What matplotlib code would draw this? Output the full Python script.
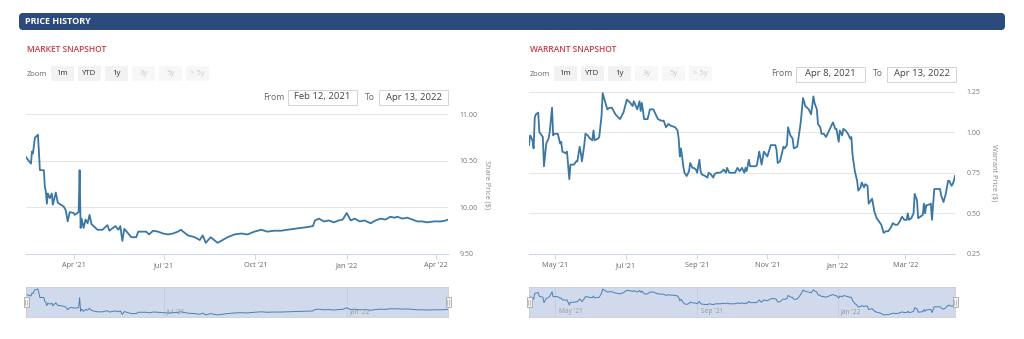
"""Price history panel: share price and warrant price with range navigators."""
import matplotlib
matplotlib.use("Agg")
import matplotlib.pyplot as plt
import matplotlib.dates as mdates
import matplotlib.transforms as mtransforms
from matplotlib.patches import FancyBboxPatch, Rectangle
import pandas as pd

plt.rcParams['font.family'] = ['Open Sans', 'DejaVu Sans']

share_dates = [
    "2021-02-12", "2021-02-17", "2021-02-18", "2021-02-19", "2021-02-21",
    "2021-02-23", "2021-02-24", "2021-02-25", "2021-02-26", "2021-03-02",
    "2021-03-03", "2021-03-04", "2021-03-05", "2021-03-06", "2021-03-08",
    "2021-03-10", "2021-03-11", "2021-03-14", "2021-03-16", "2021-03-19",
    "2021-03-22", "2021-03-24", "2021-03-26", "2021-03-28", "2021-04-01",
    "2021-04-02", "2021-04-06", "2021-04-07", "2021-04-08", "2021-04-09",
    "2021-04-11", "2021-04-13", "2021-04-15", "2021-04-17", "2021-04-19",
    "2021-04-21", "2021-04-25", "2021-04-30", "2021-05-05", "2021-05-07",
    "2021-05-13", "2021-05-16", "2021-05-18", "2021-05-20", "2021-05-22",
    "2021-05-26", "2021-05-29", "2021-06-03", "2021-06-05", "2021-06-13",
    "2021-06-16", "2021-06-20", "2021-06-25", "2021-06-30", "2021-07-05",
    "2021-07-10", "2021-07-15", "2021-07-18", "2021-07-25", "2021-08-01",
    "2021-08-06", "2021-08-09", "2021-08-12", "2021-08-17", "2021-08-24",
    "2021-08-29", "2021-09-03", "2021-09-10", "2021-09-17", "2021-09-23",
    "2021-09-30", "2021-10-07", "2021-10-13", "2021-10-20", "2021-10-27",
    "2021-11-02", "2021-11-09", "2021-11-16", "2021-11-23", "2021-11-28",
    "2021-11-30", "2021-12-04", "2021-12-09", "2021-12-14", "2021-12-19",
    "2021-12-24", "2021-12-28", "2022-01-01", "2022-01-05", "2022-01-09",
    "2022-01-14", "2022-01-19", "2022-01-25", "2022-01-30", "2022-02-04",
    "2022-02-09", "2022-02-14", "2022-02-18", "2022-02-21", "2022-02-26",
    "2022-03-03", "2022-03-08", "2022-03-13", "2022-03-18", "2022-03-23",
    "2022-03-30", "2022-04-06", "2022-04-11", "2022-04-13",
]
share_price = [
    10.54, 10.47, 10.60, 10.58, 10.75,
    10.77, 10.78, 10.60, 10.40, 10.40,
    10.22, 10.17, 10.04, 10.15, 10.10,
    10.15, 10.03, 10.16, 10.05, 10.03,
    10.01, 9.97, 9.85, 9.95, 9.94,
    9.92, 9.95, 10.40, 9.78, 9.88,
    9.78, 9.87, 9.83, 9.92, 9.82,
    9.80, 9.76, 9.76, 9.81, 9.75,
    9.80, 9.76, 9.80, 9.64, 9.77,
    9.72, 9.68, 9.68, 9.74, 9.74,
    9.71, 9.75, 9.74, 9.72, 9.71,
    9.72, 9.74, 9.76, 9.70, 9.68,
    9.65, 9.70, 9.62, 9.68, 9.62,
    9.65, 9.68, 9.71, 9.72, 9.71,
    9.74, 9.76, 9.74, 9.75, 9.75,
    9.76, 9.77, 9.78, 9.79, 9.80,
    9.86, 9.88, 9.85, 9.86, 9.84,
    9.86, 9.87, 9.94, 9.86, 9.88,
    9.85, 9.86, 9.83, 9.86, 9.88,
    9.87, 9.90, 9.89, 9.90, 9.88,
    9.89, 9.87, 9.85, 9.85, 9.84,
    9.85, 9.85, 9.86, 9.87,
]

warrant_dates = [
    "2021-04-08", "2021-04-09", "2021-04-11", "2021-04-12", "2021-04-13",
    "2021-04-14", "2021-04-16", "2021-04-17", "2021-04-19", "2021-04-20",
    "2021-04-21", "2021-04-23", "2021-04-25", "2021-04-26", "2021-04-28",
    "2021-04-29", "2021-04-30", "2021-05-03", "2021-05-05", "2021-05-06",
    "2021-05-07", "2021-05-10", "2021-05-11", "2021-05-13", "2021-05-14",
    "2021-05-17", "2021-05-19", "2021-05-20", "2021-05-22", "2021-05-23",
    "2021-05-24", "2021-05-26", "2021-05-27", "2021-05-29", "2021-05-31",
    "2021-06-02", "2021-06-03", "2021-06-04", "2021-06-07", "2021-06-08",
    "2021-06-10", "2021-06-11", "2021-06-13", "2021-06-15", "2021-06-17",
    "2021-06-19", "2021-06-22", "2021-06-26", "2021-06-29", "2021-07-02",
    "2021-07-05", "2021-07-07", "2021-07-08", "2021-07-11", "2021-07-13",
    "2021-07-14", "2021-07-15", "2021-07-17", "2021-07-20", "2021-07-22",
    "2021-07-25", "2021-07-27", "2021-07-29", "2021-08-01", "2021-08-03",
    "2021-08-05", "2021-08-07", "2021-08-09", "2021-08-13", "2021-08-15",
    "2021-08-16", "2021-08-17", "2021-08-18", "2021-08-19", "2021-08-20",
    "2021-08-21", "2021-08-23", "2021-08-25", "2021-08-26", "2021-08-28",
    "2021-08-29", "2021-08-31", "2021-09-01", "2021-09-03", "2021-09-04",
    "2021-09-05", "2021-09-08", "2021-09-10", "2021-09-11", "2021-09-13",
    "2021-09-15", "2021-09-16", "2021-09-18", "2021-09-21", "2021-09-23",
    "2021-09-24", "2021-09-26", "2021-09-27", "2021-09-29", "2021-10-02",
    "2021-10-04", "2021-10-06", "2021-10-08", "2021-10-10", "2021-10-12",
    "2021-10-13", "2021-10-14", "2021-10-16", "2021-10-17", "2021-10-19",
    "2021-10-22", "2021-10-23", "2021-10-25", "2021-10-27", "2021-10-29",
    "2021-10-31", "2021-11-01", "2021-11-04", "2021-11-08", "2021-11-09",
    "2021-11-10", "2021-11-12", "2021-11-15", "2021-11-16", "2021-11-18",
    "2021-11-19", "2021-11-21", "2021-11-23", "2021-11-24", "2021-11-27",
    "2021-11-28", "2021-11-30", "2021-12-02", "2021-12-04", "2021-12-07",
    "2021-12-09", "2021-12-10", "2021-12-11", "2021-12-12", "2021-12-14",
    "2021-12-15", "2021-12-17", "2021-12-18", "2021-12-20", "2021-12-22",
    "2021-12-24", "2021-12-26", "2021-12-28", "2021-12-30", "2021-12-31",
    "2022-01-02", "2022-01-03", "2022-01-05", "2022-01-06", "2022-01-08",
    "2022-01-10", "2022-01-12", "2022-01-13", "2022-01-14", "2022-01-16",
    "2022-01-18", "2022-01-19", "2022-01-21", "2022-01-22", "2022-01-24",
    "2022-01-25", "2022-01-27", "2022-01-28", "2022-01-30", "2022-01-31",
    "2022-02-02", "2022-02-04", "2022-02-06", "2022-02-08", "2022-02-10",
    "2022-02-12", "2022-02-14", "2022-02-16", "2022-02-18", "2022-02-20",
    "2022-02-22", "2022-02-24", "2022-02-26", "2022-02-28", "2022-03-02",
    "2022-03-03", "2022-03-04", "2022-03-06", "2022-03-08", "2022-03-09",
    "2022-03-11", "2022-03-12", "2022-03-14", "2022-03-16", "2022-03-17",
    "2022-03-18", "2022-03-19", "2022-03-20", "2022-03-23", "2022-03-24",
    "2022-03-26", "2022-03-31", "2022-04-01", "2022-04-03", "2022-04-05",
    "2022-04-07", "2022-04-08", "2022-04-10", "2022-04-11", "2022-04-12",
    "2022-04-13",
]
warrant_price = [
    0.92, 0.98, 0.95, 0.90, 1.09,
    1.11, 1.12, 1.00, 0.98, 0.97,
    0.79, 0.93, 0.96, 1.00, 1.15,
    0.98, 0.99, 0.99, 0.93, 0.94,
    0.88, 0.87, 0.88, 0.71, 0.80,
    0.80, 0.82, 0.82, 0.91, 0.87,
    0.82, 0.92, 0.99, 0.98, 0.96,
    0.95, 1.01, 0.95, 0.96, 0.97,
    1.10, 1.24, 1.19, 1.14, 1.15,
    1.15, 1.11, 1.08, 1.12, 1.20,
    1.18, 1.16, 1.19, 1.14, 1.19,
    1.13, 1.18, 1.08, 1.08, 1.14,
    1.14, 1.11, 1.08, 1.07, 1.07,
    1.03, 1.05, 1.04, 1.03, 1.01,
    0.96, 0.85, 0.90, 0.85, 0.79,
    0.75, 0.73, 0.76, 0.81, 0.78,
    0.78, 0.77, 0.75, 0.83, 0.76,
    0.74, 0.73, 0.72, 0.75, 0.74,
    0.72, 0.74, 0.75, 0.75, 0.76,
    0.77, 0.75, 0.78, 0.75, 0.75,
    0.75, 0.78, 0.76, 0.78, 0.75,
    0.78, 0.76, 0.83, 0.79, 0.79,
    0.79, 0.80, 0.88, 0.80, 0.88,
    0.86, 0.85, 0.92, 0.92, 0.89,
    0.81, 0.82, 0.91, 0.90, 0.92,
    1.03, 0.98, 0.96, 0.90, 0.91,
    0.96, 1.06, 1.21, 1.16, 1.14,
    1.11, 1.16, 1.22, 1.18, 1.14,
    1.05, 1.03, 0.99, 0.99, 0.97,
    1.00, 1.03, 1.06, 1.02, 1.02,
    0.94, 1.01, 0.98, 1.02, 1.01,
    0.99, 0.96, 0.97, 0.86, 0.76,
    0.70, 0.64, 0.66, 0.69, 0.66,
    0.68, 0.67, 0.56, 0.58, 0.59,
    0.51, 0.47, 0.45, 0.43, 0.38,
    0.39, 0.39, 0.41, 0.44, 0.43,
    0.43, 0.45, 0.48, 0.46, 0.46,
    0.50, 0.46, 0.47, 0.50, 0.62,
    0.58, 0.47, 0.48, 0.49, 0.56,
    0.50, 0.55, 0.55, 0.56, 0.46,
    0.65, 0.65, 0.61, 0.57, 0.62,
    0.70, 0.70, 0.67, 0.68, 0.70,
    0.73,
]

zoom_buttons = ["1m", "YTD", "1y", "3y", "5y", "> 5y"]
zoom_enabled = [True, True, True, False, False, False]

W, H = 1024, 339
LINE = "#3a77a5"
RED = "#cc3a44"
GREY_TXT = "#666666"

fig = plt.figure(figsize=(W / 100, H / 100), dpi=100)
fig.patch.set_facecolor("white")

# overlay in pixel units for the page furniture (header, buttons, inputs)
ui = fig.add_axes([0, 0, 1, 1])
ui.set_xlim(0, W)
ui.set_ylim(H, 0)
ui.axis("off")
ui.set_zorder(10)


def px_rect(x0, y0, x1, y1):
    return [x0 / W, 1 - y1 / H, (x1 - x0) / W, (y1 - y0) / H]


ui.add_patch(FancyBboxPatch((19, 13), 986, 17,
                            boxstyle="round,pad=0,rounding_size=4",
                            fc="#2c4a7b", ec="none"))
ui.text(25, 21.8, "PRICE HISTORY", color="white", fontsize=6.5,
        fontweight="bold", va="center", ha="left")


def controls(x0, title, date_from, date_to, from_x, from_y):
    ui.text(x0 + 1, 50, title, color=RED, fontsize=6, fontweight="semibold",
            va="center", ha="left")
    ui.text(x0 + 1, 74, "Zoom", color=GREY_TXT, fontsize=5.5, va="center")
    bx = x0 + 25
    for lab, on in zip(zoom_buttons, zoom_enabled):
        ui.add_patch(Rectangle((bx, 66), 23, 15, fc="#f2f2f2" if on else "#f7f7f7",
                               ec="none"))
        ui.text(bx + 11.5, 73.8, lab, color="#333333" if on else "#cccccc",
                fontsize=5.6, ha="center", va="center")
        bx += 27
    # From / To date inputs
    ui.text(from_x, from_y, "From", color=GREY_TXT, fontsize=6.2,
            va="center", ha="left")
    ui.add_patch(Rectangle((from_x + 25, from_y - 7.5), 69, 15, fc="white",
                           ec="#cccccc", lw=0.6))
    ui.text(from_x + 59.5, from_y, date_from, color="#444444", fontsize=6.8,
            ha="center", va="center")
    ui.text(from_x + 102, from_y, "To", color=GREY_TXT, fontsize=6.2,
            va="center", ha="left")
    ui.add_patch(Rectangle((from_x + 116, from_y - 7.5), 69, 15, fc="white",
                           ec="#cccccc", lw=0.6))
    ui.text(from_x + 150.5, from_y, date_to, color="#444444", fontsize=6.8,
            ha="center", va="center")


def handle(x, y):
    ui.add_patch(Rectangle((x - 2.5, y - 5), 5, 10, fc="#f2f2f2", ec="#999999",
                           lw=0.5))
    ui.plot([x - 0.6, x - 0.6], [y - 2.5, y + 2.5], color="#999999", lw=0.4)
    ui.plot([x + 0.6, x + 0.6], [y - 2.5, y + 2.5], color="#999999", lw=0.4)


def price_chart(x0, x1, top, dates, values, ylim, yticks, ylabel,
                months, nav_months):
    d = pd.to_datetime(dates)
    ax = fig.add_axes(px_rect(x0, top, x1, 254))
    ax.plot(d, values, color=LINE, lw=1.3, solid_joinstyle="round")
    ax.set_xlim(d[0], d[-1])
    ax.set_ylim(*ylim)
    ax.set_yticks(yticks)
    ax.yaxis.set_major_formatter(plt.FormatStrFormatter("%.2f"))
    ax.yaxis.tick_right()
    ax.tick_params(axis="y", length=0, pad=8.5, labelsize=5, labelcolor="#777777")
    ax.xaxis.set_major_locator(mdates.MonthLocator(bymonth=months))
    ax.xaxis.set_major_formatter(mdates.DateFormatter("%b '%y"))
    ax.tick_params(axis="x", length=3.6, width=0.7, color="#ccd6eb", pad=2.5,
                   labelsize=5.2, labelcolor=GREY_TXT)
    ax.grid(axis="y", color="#e6e6e6", lw=0.7)
    for s in ("top", "left", "right"):
        ax.spines[s].set_visible(False)
    ax.spines["bottom"].set_color("#ccd6eb")
    ax.spines["bottom"].set_linewidth(0.8)
    ax.text((x1 + 39 - x0) / (x1 - x0), 0.5, ylabel, transform=ax.transAxes,
            rotation=270, ha="center", va="center", fontsize=5.3,
            color="#888888")

    # navigator strip under the chart
    nav = fig.add_axes(px_rect(x0, 287, x1, 317))
    nav.set_facecolor("#d1daed")
    nav.plot(d, values, color="#4a80b0", lw=0.7)
    nav.set_xlim(d[0], d[-1])
    span = max(values) - min(values)
    nav.set_ylim(min(values) - 0.08 * span, max(values) + 0.08 * span)
    nav.xaxis.set_major_locator(mdates.MonthLocator(bymonth=nav_months))
    nav.set_yticks([])
    nav.tick_params(axis="x", length=0, labelbottom=False)
    nav.grid(axis="x", color="#bfc9de", lw=0.5)
    for s in nav.spines.values():
        s.set_color("#cccccc")
        s.set_linewidth(0.6)
    trans = mtransforms.blended_transform_factory(nav.transData, nav.transAxes)
    for loc in nav.get_xticks():
        nav.text(loc + 3, 0.17, mdates.num2date(loc).strftime("%b '%y"),
                 transform=trans, fontsize=4.8, color="#999999", va="center")
    handle(x0, 302)
    handle(x1, 302)
    return ax


controls(26, "MARKET SNAPSHOT", "Feb 12, 2021", "Apr 13, 2022", 263, 97)
controls(529, "WARRANT SNAPSHOT", "Apr 8, 2021", "Apr 13, 2022", 771, 74)

price_chart(26, 448, 114.3, share_dates, share_price, (9.5, 11.0),
            [9.5, 10.0, 10.5, 11.0], "Share Price ($)", [1, 4, 7, 10], [1, 7])
price_chart(529, 955, 91.5, warrant_dates, warrant_price, (0.25, 1.25),
            [0.25, 0.5, 0.75, 1.0, 1.25], "Warrant Price ($)",
            [1, 3, 5, 7, 9, 11], [1, 5, 9])

fig.savefig("out.png", dpi=100, facecolor="white")
